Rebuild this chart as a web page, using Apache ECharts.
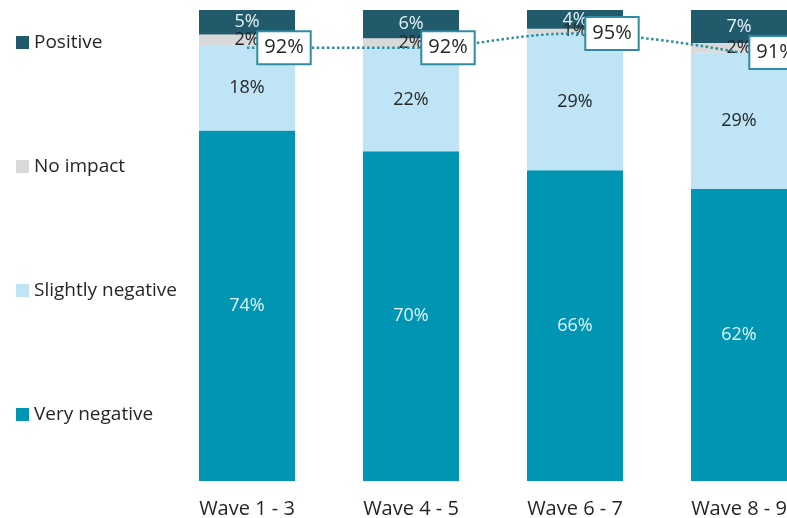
<!DOCTYPE html>
<html>
<head>
<meta charset="utf-8">
<script src="https://cdn.jsdelivr.net/npm/echarts@6/dist/echarts.min.js"></script>
<style>html,body{margin:0;padding:0;background:#fff;}#c{width:787px;height:518px;}</style>
</head>
<body>
<div id="c"></div>
<script>
var categories = ['Wave 1 - 3', 'Wave 4 - 5', 'Wave 6 - 7', 'Wave 8 - 9'];
var veryNegative = [74.4, 70, 66, 62];
var slightlyNegative = [18.2, 22, 29, 29];
var noImpact = [2.2, 2, 1, 2];
var positive = [5.2, 6, 4, 7];
var netNegative = [92, 92, 95, 91];
var legendOrder = ['Positive', 'No impact', 'Slightly negative', 'Very negative'];

var FONT = '"Open Sans", "Noto Sans", sans-serif';
function barLabel(color) {
  return {
    show: true, position: 'inside', color: color, fontFamily: FONT, fontSize: 18,
    formatter: function (p) { return Math.round(p.value) + '%'; }
  };
}
function barSeries(name, data, color, labelColor) {
  return {
    name: name, type: 'bar', stack: 'total', data: data, barWidth: 96,
    itemStyle: { color: color }, label: barLabel(labelColor), z: 2
  };
}
var chart = echarts.init(document.getElementById('c'));
chart.setOption({
  animation: false,
  textStyle: { fontFamily: FONT },
  grid: { left: 165, top: 10, width: 656, height: 471, containLabel: false, outerBoundsMode: 'none' },
  legend: {
    data: legendOrder, orient: 'vertical', left: 16, top: 33, padding: 0,
    itemWidth: 13, itemHeight: 13, icon: 'rect', itemGap: 105,
    textStyle: { fontSize: 19, color: '#262626', fontFamily: FONT }
  },
  xAxis: {
    type: 'category', data: categories,
    axisLine: { show: false }, axisTick: { show: false },
    axisLabel: { fontSize: 20, color: '#262626', margin: 18, fontFamily: FONT }
  },
  yAxis: { type: 'value', min: 0, max: 100, show: false, splitLine: { show: false } },
  series: [
    barSeries('Very negative', veryNegative, '#0095b3', '#e3f3f8'),
    barSeries('Slightly negative', slightlyNegative, '#bfe4f5', '#262626'),
    barSeries('No impact', noImpact, '#d9d9d9', '#262626'),
    barSeries('Positive', positive, '#215a6a', '#e3f3f8'),
    {
      name: 'Net negative', type: 'line', data: netNegative, smooth: 0.4,
      symbol: 'circle', symbolSize: 1, showSymbol: true, z: 5,
      itemStyle: { color: 'rgba(0,0,0,0)' },
      lineStyle: { color: '#2e8ca2', width: 2.5, type: 'dotted' },
      label: {
        show: true, position: 'inside', offset: [37, 0],
        formatter: '{c}%', fontSize: 20, color: '#262626', fontFamily: FONT,
        backgroundColor: '#ffffff', borderColor: '#2e8ca2', borderWidth: 2,
        padding: [6, 6, 5, 6]
      }
    }
  ]
});
</script>
</body>
</html>
